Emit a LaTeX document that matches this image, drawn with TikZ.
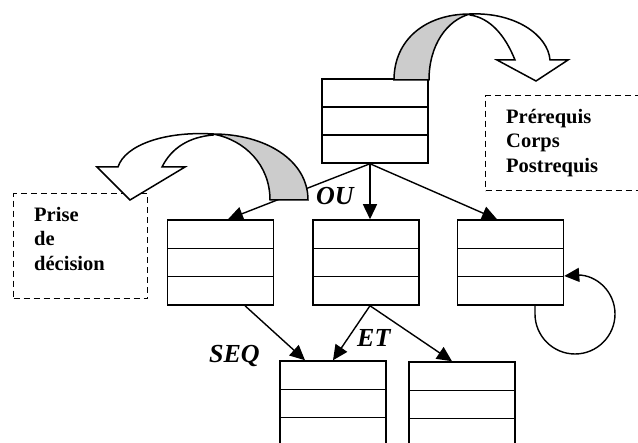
\documentclass[tikz,border=0pt]{standalone}
\usepackage{fontspec}
\setmainfont{Liberation Serif}
\usetikzlibrary{arrows.meta,calc}
\begin{document}
\begin{tikzpicture}[x=1pt,y=-1pt,
  tbl/.style={draw, line width=1.5pt, minimum width=106pt, minimum height=85pt, inner sep=0pt,
    path picture={\foreach \f in {0.3333,0.6667}{\draw[line width=1.5pt]
      ($(path picture bounding box.north west)!\f!(path picture bounding box.south west)$) --
      ($(path picture bounding box.north east)!\f!(path picture bounding box.south east)$);}}},
  conn/.style={line width=1.4pt, -{Triangle[length=15pt,width=14pt]}},
  lbl/.style={font=\fontsize{26}{26}\selectfont\bfseries\itshape, inner sep=0pt, anchor=base west},
  dashbox/.style={draw, dash pattern=on 6pt off 4pt, line width=1.4pt, inner sep=0pt, anchor=north west},
  txt/.style={font=\fontsize{20.5}{24.5}\selectfont\bfseries, align=left, inner sep=0pt, anchor=north west},
  blk/.style={draw, line width=1.5pt, line join=miter}
]
\path[use as bounding box, clip] (0,0) rectangle (638,443);

% dashed boxes
\node[dashbox, minimum width=170pt, minimum height=95pt] (prebox) at (485,95) {};
\node[txt] (pretxt) at (506,109) {Prérequis\\Corps\\Postrequis};
\node[dashbox, minimum width=134pt, minimum height=105pt] (decbox) at (13,193) {};
\node[txt] (dectxt) at (34,207) {Prise\\de\\décision};

% tables
\node[tbl, minimum height=84pt] (T) at (375,121) {};
\node[tbl] (L) at (220.5,262.5) {};
\node[tbl] (M) at (366,262.5) {};
\node[tbl] (R) at (510.5,262.5) {};
\node[tbl] (BL) at (333,403.5) {};
\node[tbl] (BR) at (462,404.5) {};

% connectors
\draw[conn] ([xshift=-5pt]T.south) -- ([xshift=7.5pt]L.north);
\draw[conn] ([xshift=-5pt]T.south) -- ([xshift=4pt]M.north);
\draw[conn] ([xshift=-5pt]T.south) -- ([xshift=-13.5pt]R.north);
\draw[conn] ([xshift=24.5pt]L.south) -- ([xshift=-28pt]BL.north);
\draw[conn] ([xshift=4pt]M.south) -- (BL.north);
\draw[conn] ([xshift=4pt]M.south) -- ([xshift=-10pt]BR.north);
\draw[conn] ([xshift=24.5pt]R.south) -- (535,314)
  .. controls (535,336) and (553,354) .. (575,354)
  .. controls (597,354) and (615,336) .. (615,314)
  .. controls (615,292) and (597,275) .. (578,275)
  -- ([yshift=-13.5pt]R.east);

% top curved block arrow
\draw[blk, fill=black!20] (394,80) .. controls (394,40) and (425,14) .. (470,14)
  .. controls (447,20) and (429,45) .. (429,80) -- cycle;
\draw[blk, fill=white] (470,14) .. controls (515,12) and (548,35) .. (550,60)
  -- (568,60) -- (536,81) -- (497,60) -- (515,60)
  .. controls (505,35) and (490,18) .. (470,15) -- cycle;

% left curved block arrow
\draw[blk, fill=black!20] (308,200) .. controls (308,160) and (265,134) .. (213,134)
  .. controls (245,140) and (270,165) .. (270,200) -- cycle;
\draw[blk, fill=white] (213,134) .. controls (165,131) and (125,145) .. (118,167)
  -- (97,167) -- (130,200) -- (185,167) -- (162,167)
  .. controls (172,147) and (190,137) .. (213,135) -- cycle;

% labels
\node[lbl] (ou) at (316,205) {OU};
\node[lbl] (seq) at (209,363) {SEQ};
\node[lbl] (et) at (357,347) {ET};
\end{tikzpicture}
\end{document}
